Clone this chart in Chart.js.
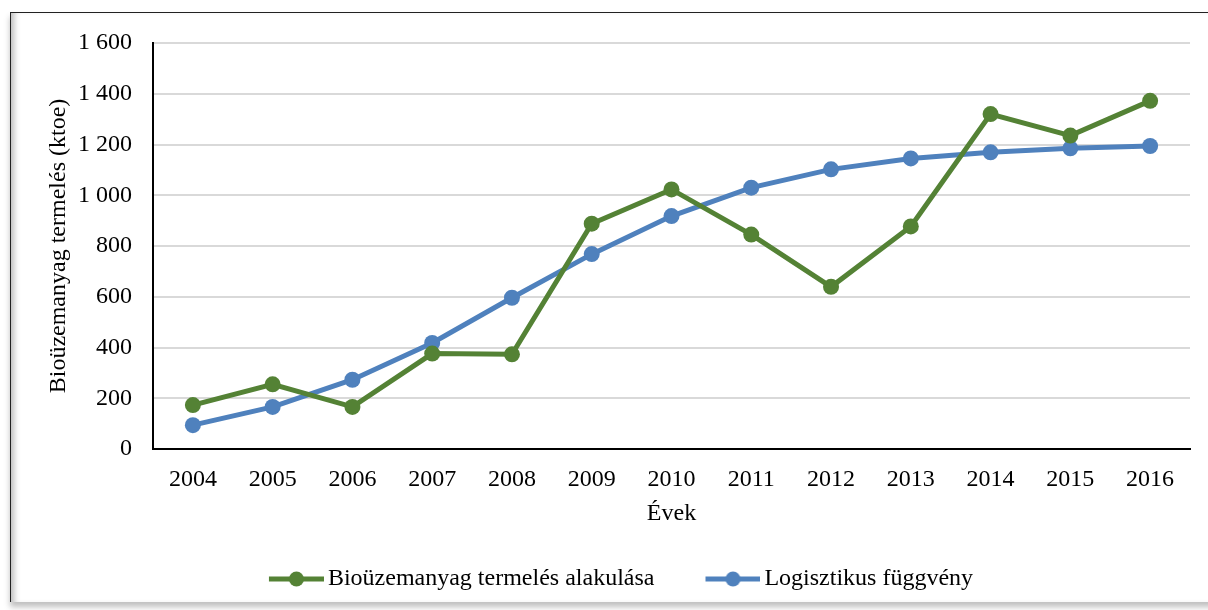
<!DOCTYPE html>
<html>
<head>
<meta charset="utf-8">
<script src="https://cdn.jsdelivr.net/npm/chart.js@4"></script>
<style>
    html, body { margin: 0; padding: 0; background: #fff; }
    #wrap { position: relative; width: 1208px; height: 610px; overflow: hidden; }
    #frame {
        position: absolute; left: 10px; top: 12px; width: 1240px; height: 589px;
        border-top: 1.5px solid #222; border-left: 1.5px solid #222;
        box-shadow: inset 7px 0 6px -4px rgba(0,0,0,0.28), 0 5px 6px rgba(0,0,0,0.25);
        background: #fff;
    }
    canvas { position: absolute; left: 0; top: 0; }
</style>
</head>
<body>
<div id="wrap">
    <div id="frame"></div>
    <canvas id="chart" width="1208" height="610"></canvas>
</div>
<script>
// adatok
const evek = ['2004', '2005', '2006', '2007', '2008', '2009', '2010', '2011', '2012', '2013', '2014', '2015', '2016'];
const termeles = [173, 255, 166, 376, 373, 888, 1023, 845, 639, 877, 1320, 1235, 1372];
const logisztikus = [94, 166, 273, 418, 596, 768, 918, 1030, 1102, 1145, 1169, 1185, 1194];
const yTickLabels = ['0', '200', '400', '600', '800', '1 000', '1 200', '1 400', '1 600'];

const zold = '#548235';
const kek = '#4f81bd';

Chart.defaults.font.family = "'Liberation Serif', 'Times New Roman', serif";
Chart.defaults.font.size = 24;
Chart.defaults.color = '#000';

// jelmagyarazat ikon: vonal + kor
function ikon(szin) {
    const c = document.createElement('canvas');
    c.width = 75;
    c.height = 18;
    const ctx = c.getContext('2d');
    ctx.strokeStyle = szin;
    ctx.lineWidth = 5;
    ctx.beginPath();
    ctx.moveTo(20, 9);
    ctx.lineTo(75, 9);
    ctx.stroke();
    ctx.fillStyle = szin;
    ctx.beginPath();
    ctx.arc(47.5, 9, 7.5, 0, Math.PI * 2);
    ctx.fill();
    return c;
}
const ikonok = [ikon(zold), ikon(kek)];

const ctx = document.getElementById('chart').getContext('2d');
new Chart(ctx, {
    type: 'line',
    data: {
        labels: evek,
        datasets: [{
            label: 'Bioüzemanyag termelés alakulása',
            data: termeles,
            borderColor: zold,
            backgroundColor: zold,
            borderWidth: 5,
            pointStyle: 'circle',
            pointRadius: 8,
            pointBorderWidth: 0,
            tension: 0
        }, {
            label: 'Logisztikus függvény',
            data: logisztikus,
            borderColor: kek,
            backgroundColor: kek,
            borderWidth: 5,
            pointStyle: 'circle',
            pointRadius: 8,
            pointBorderWidth: 0,
            tension: 0
        }]
    },
    options: {
        responsive: false,
        animation: false,
        layout: {
            padding: { left: 40, right: 18, top: 43, bottom: 9 }
        },
        plugins: {
            tooltip: { enabled: false },
            legend: {
                position: 'bottom',
                labels: {
                    usePointStyle: true,
                    pointStyleWidth: 59,
                    padding: 39,
                    color: '#000',
                    generateLabels: function (chart) {
                        const items = Chart.defaults.plugins.legend.labels.generateLabels(chart);
                        items.forEach(function (it, i) { it.pointStyle = ikonok[i]; });
                        return items;
                    }
                }
            }
        },
        scales: {
            x: {
                offset: true,
                grid: { display: false, drawTicks: false },
                border: { color: '#000', width: 2 },
                ticks: { padding: 16, maxRotation: 0 },
                title: { display: true, text: 'Évek', padding: { top: 0, bottom: 0 } },
                afterFit: function (scale) { scale.height = 79; }
            },
            y: {
                min: 0,
                max: 1600,
                grid: { color: '#d9d9d9', lineWidth: 2, drawTicks: false },
                border: { color: '#000', width: 2 },
                ticks: {
                    stepSize: 200,
                    padding: 21,
                    callback: function (v, i) { return yTickLabels[i]; }
                },
                title: { display: true, text: 'Bioüzemanyag termelés (ktoe)', padding: { top: 4, bottom: 4 } },
                afterFit: function (scale) { scale.width = 113; }
            }
        }
    }
});
</script>
</body>
</html>
